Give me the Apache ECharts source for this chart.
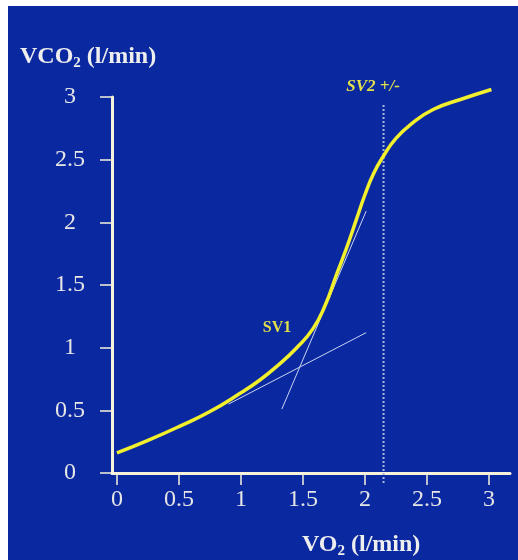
<!DOCTYPE html>
<html>
<head>
<meta charset="utf-8">
<script src="https://cdn.jsdelivr.net/npm/echarts@6/dist/echarts.min.js"></script>
<style>
html,body{margin:0;padding:0;background:#ffffff;}
#bg{position:absolute;left:8px;top:6px;width:510px;height:554px;background:#0a29a0;}
#chart{position:absolute;left:0;top:0;width:518px;height:560px;}
</style>
</head>
<body>
<div id="bg"></div>
<div id="chart"></div>
<script>
// VO2 (l/min) and VCO2 (l/min)
var curveX = [0, 0.25, 0.5, 0.75, 1.0, 1.15, 1.3, 1.45, 1.58, 1.68, 1.77, 1.85, 1.93, 2.0, 2.07, 2.15, 2.25, 2.38, 2.55, 2.77, 3.02];
var curveY = [0.16, 0.26, 0.37, 0.49, 0.64, 0.74, 0.86, 1.00, 1.15, 1.34, 1.58, 1.79, 2.02, 2.22, 2.39, 2.53, 2.67, 2.79, 2.90, 2.98, 3.06];
// tangent lines used to find SV1
var tangent1X = [0.90, 2.01];
var tangent1Y = [0.55, 1.12];
var tangent2X = [1.33, 2.01];
var tangent2Y = [0.51, 2.09];
// SV2 marker line
var sv2X = [2.15, 2.15];
var sv2Y = [-0.08, 2.94];
var xTicks = [0, 0.5, 1, 1.5, 2, 2.5, 3];
var yTicks = [0, 0.5, 1, 1.5, 2, 2.5, 3];

function pairs(xs, ys){ return xs.map(function(x,i){ return [x, ys[i]]; }); }

var chart = echarts.init(document.getElementById('chart'), null, {renderer:'canvas'});
var serif = '"Liberation Serif","DejaVu Serif",serif';
var labelColor = '#e6e6e6';
var axisColor = '#f6f2dc';
chart.setOption({
  backgroundColor: 'transparent',
  animation: false,
  grid: {left: 112, right: 8, top: 97, bottom: 87, containLabel: false},
  xAxis: {
    type: 'value', min: -0.04, max: 3.17,
    splitLine: {show: false},
    axisLine: {show: true, onZero: false, lineStyle: {color: axisColor, width: 3}},
    axisTick: {show: true, customValues: xTicks, length: 12, lineStyle: {color: axisColor, width: 1.5}},
    axisLabel: {customValues: xTicks, margin: 15, color: labelColor, fontFamily: serif, fontSize: 24}
  },
  yAxis: {
    type: 'value', min: 0, max: 3,
    splitLine: {show: false},
    axisLine: {show: true, onZero: false, lineStyle: {color: axisColor, width: 3}},
    axisTick: {show: true, customValues: yTicks, length: 12, lineStyle: {color: axisColor, width: 1.5}},
    axisLabel: {customValues: yTicks, margin: 42, align: 'center', color: labelColor, fontFamily: serif, fontSize: 24,
      formatter: function(v){ return String(v); }}
  },
  series: [
    {type: 'line', data: pairs(sv2X, sv2Y), symbol: 'none', clip: false, z: 1,
     lineStyle: {color: '#a9b9de', width: 2, type: [2, 2]}},
    {type: 'line', data: pairs(tangent1X, tangent1Y), symbol: 'none', clip: false, z: 2,
     lineStyle: {color: '#c9d4f2', width: 1}},
    {type: 'line', data: pairs(tangent2X, tangent2Y), symbol: 'none', clip: false, z: 2,
     lineStyle: {color: '#c9d4f2', width: 1}},
    {type: 'line', data: pairs(curveX, curveY), symbol: 'none', smooth: 0.5, clip: false, z: 3,
     lineStyle: {color: '#f2f02c', width: 3.5}}
  ],
  graphic: [
    {type: 'text', left: 20, top: 45, style: {
      text: '{a|VCO}{s|2}{a| (l/min)}',
      rich: {
        a: {fontFamily: serif, fontWeight: 'bold', fontSize: 24, fill: '#eeeeee'},
        s: {fontFamily: serif, fontWeight: 'bold', fontSize: 15, fill: '#eeeeee', padding: [12, 0, 0, 0]}
      }}},
    {type: 'text', left: 302, top: 533, style: {
      text: '{a|VO}{s|2}{a| (l/min)}',
      rich: {
        a: {fontFamily: serif, fontWeight: 'bold', fontSize: 24, fill: '#eeeeee'},
        s: {fontFamily: serif, fontWeight: 'bold', fontSize: 15, fill: '#eeeeee', padding: [12, 0, 0, 0]}
      }}},
    {type: 'text', x: 373, y: 87, style: {
      text: 'SV2 +/-', fontFamily: serif, fontWeight: 'bold', fontStyle: 'italic', fontSize: 17,
      fill: '#e2df4a', align: 'center', verticalAlign: 'middle'}},
    {type: 'text', x: 277, y: 328, style: {
      text: 'SV1', fontFamily: serif, fontWeight: 'bold', fontSize: 16,
      fill: '#e2df4a', align: 'center', verticalAlign: 'middle'}}
  ]
});
</script>
</body>
</html>
